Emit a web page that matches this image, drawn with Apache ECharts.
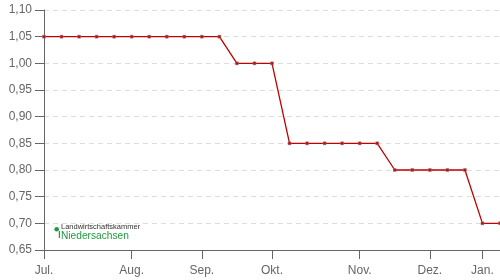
<!DOCTYPE html>
<html><head><meta charset="utf-8">
<script src="https://cdn.jsdelivr.net/npm/echarts@6/dist/echarts.min.js"></script>
<style>html,body{margin:0;padding:0;background:#fff}#c{width:500px;height:280px}</style>
</head><body><div id="c"></div>
<script>
const weeks = [
  'Jul. 1','Jul. 2','Jul. 3','Jul. 4','Jul. 5',
  'Aug. 1','Aug. 2','Aug. 3','Aug. 4',
  'Sep. 1','Sep. 2','Sep. 3','Sep. 4',
  'Okt. 1','Okt. 2','Okt. 3','Okt. 4','Okt. 5',
  'Nov. 1','Nov. 2','Nov. 3','Nov. 4',
  'Dez. 1','Dez. 2','Dez. 3',
  'Jan. 1','Jan. 2'
];
const prices = [
  1.05,1.05,1.05,1.05,1.05,
  1.05,1.05,1.05,1.05,
  1.05,1.05,1.00,1.00,
  1.00,0.85,0.85,0.85,0.85,
  0.85,0.85,0.80,0.80,
  0.80,0.80,0.80,
  0.70,0.70
];
const yTicks = ['0,65','0,70','0,75','0,80','0,85','0,90','0,95','1,00','1,05','1,10'];
const logoTop = 'Landwirtschaftskammer';
const logoBottom = 'Niedersachsen';

const isMonthStart = (i, v) => String(v).endsWith(' 1');
const chart = echarts.init(document.getElementById('c'), null, {renderer:'canvas'});
chart.setOption({
  animation:false,
  backgroundColor:'#fff',
  grid:{left:44, right:0, top:10, bottom:30, containLabel:false},
  xAxis:{
    type:'category', data:weeks, boundaryGap:false,
    axisLine:{lineStyle:{color:'#666', width:1}},
    axisTick:{show:true, length:9, interval:isMonthStart, lineStyle:{color:'#666'}},
    axisLabel:{interval:isMonthStart, color:'#666', fontFamily:'Liberation Sans, Arial', fontSize:12, margin:15,
      formatter:v => v.split(' ')[0]},
    splitLine:{show:false}
  },
  yAxis:{
    type:'value', min:0.65, max:1.10, interval:0.05, position:'left',
    axisLine:{show:true, lineStyle:{color:'#666', width:1}},
    axisTick:{show:true, inside:false, length:9, lineStyle:{color:'#666', width:1}},
    axisLabel:{color:'#666', fontFamily:'Liberation Sans, Arial', fontSize:12, margin:12,
      formatter:v => yTicks[Math.round((v-0.65)/0.05)]},
    splitLine:{show:true, lineStyle:{color:'#dddddd', type:[5,4], width:1}}
  },
  series:[{
    type:'line', data:prices, clip:false,
    lineStyle:{color:'#c00000', width:1.3},
    symbol:'rect', symbolSize:3, showSymbol:true,
    itemStyle:{color:'#b01010', borderColor:'#a08080', borderWidth:0.5}
  }],
  graphic:[
    {type:'circle', shape:{cx:56.7, cy:229.3, r:2.3}, style:{fill:'#1f9a3f'}},
    {type:'rect', shape:{x:58.8, y:231, width:1.2, height:7}, style:{fill:'#1f9a3f'}},
    {type:'text', left:61, top:222.5, style:{text:logoTop, fill:'#333', font:'7.5px Liberation Sans, Arial'}},
    {type:'text', left:61, top:231, style:{text:logoBottom, fill:'#1f9a3f', font:'500 10.2px Liberation Sans, Arial'}}
  ]
});
</script></body></html>
